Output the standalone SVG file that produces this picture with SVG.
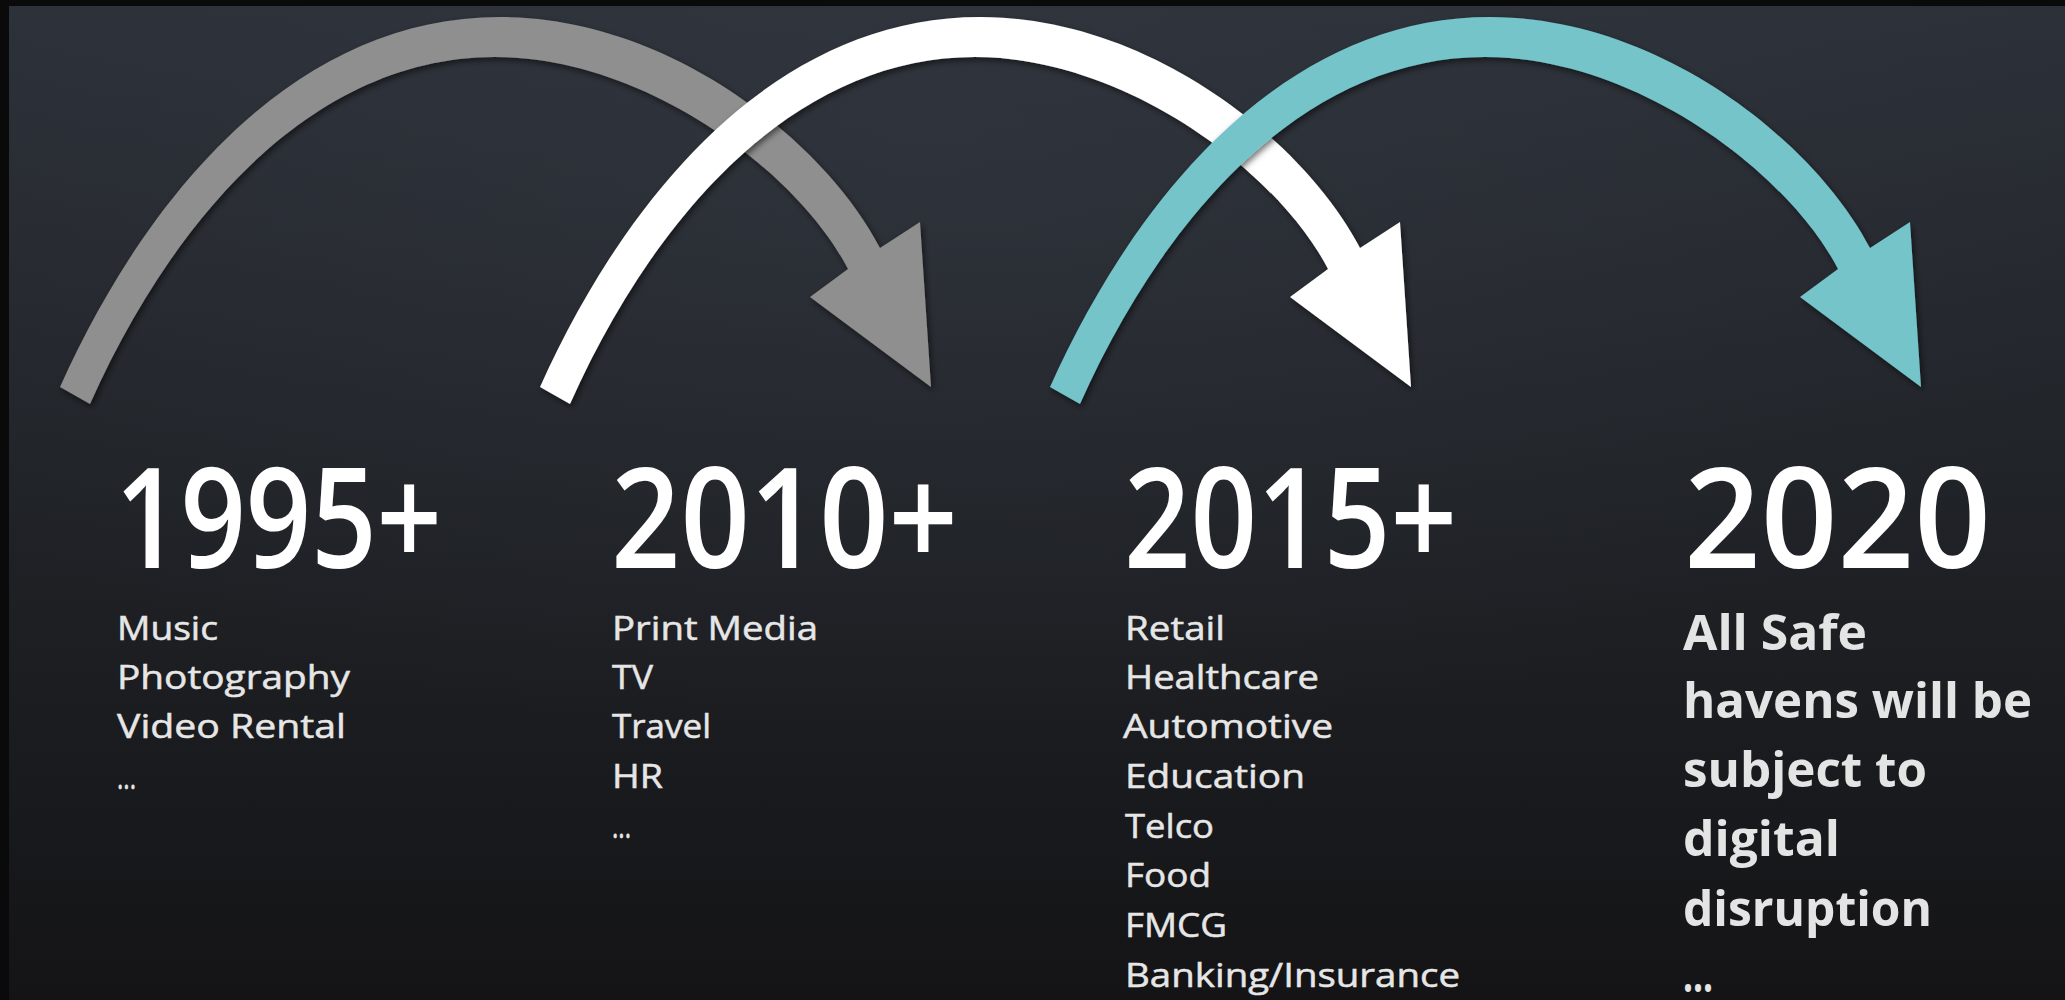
<svg xmlns="http://www.w3.org/2000/svg" xmlns:xlink="http://www.w3.org/1999/xlink" width="2065" height="1000" viewBox="0 0 2065 1000">
  <defs>
    <linearGradient id="bg" x1="0" y1="0" x2="0" y2="1">
      <stop offset="0" stop-color="#2c3038"/>
      <stop offset="0.45" stop-color="#212429"/>
      <stop offset="1" stop-color="#141416"/>
    </linearGradient>
    <radialGradient id="glow" cx="0.45" cy="0.15" r="0.6">
      <stop offset="0" stop-color="#3a3f48" stop-opacity="0.35"/>
      <stop offset="1" stop-color="#3a3f48" stop-opacity="0"/>
    </radialGradient>
    <filter id="shadow" x="-10%" y="-10%" width="130%" height="130%">
      <feDropShadow dx="2" dy="3" stdDeviation="3" flood-color="#000" flood-opacity="0.55"/>
    </filter>
    <path id="arc" d="M60 387 C150 187 300 17 500 17 C670 17 825 142 880 248 L920 222 L931 387 L810 297 L848 269 C797 171 645 57 495 57 C315 57 175 214 90 404 Z"/>
  </defs>
  <style>
    .year { font-family: "Open Sans", "Liberation Sans", sans-serif; font-weight: 600; font-size: 140px; fill: #ffffff; }
    .item { font-family: "Open Sans", "Liberation Sans", sans-serif; font-weight: 400; font-size: 33px; fill: #e6e6e6; stroke: #e6e6e6; stroke-width: 0.5px; }
    .bold { font-family: "Open Sans", "Liberation Sans", sans-serif; font-weight: 700; font-size: 49px; fill: #e4e4e4; }
    .arrow { filter: url(#shadow); }
  </style>

  <rect x="0" y="0" width="2065" height="1000" fill="url(#bg)"/>
  <rect x="0" y="0" width="2065" height="1000" fill="url(#glow)"/>
  <rect x="0" y="0" width="2065" height="6" fill="#0a0a0a"/>
  <rect x="0" y="0" width="9" height="1000" fill="#0a0a0a"/>

  <g id="connectors">
    <use xlink:href="#arc" href="#arc" class="arrow" fill="#8f8f8f"/>
    <use xlink:href="#arc" href="#arc" class="arrow" fill="#ffffff" x="480"/>
    <use xlink:href="#arc" href="#arc" class="arrow" fill="#74c4ca" x="990"/>
  </g>

  <g id="era-1995">
    <text class="year" x="115" y="568" textLength="327" lengthAdjust="spacingAndGlyphs">1995+</text>
    <text class="item" x="117" y="640" textLength="101" lengthAdjust="spacingAndGlyphs">Music</text>
    <text class="item" x="117" y="689" textLength="233" lengthAdjust="spacingAndGlyphs">Photography</text>
    <text class="item" x="117" y="738" textLength="229" lengthAdjust="spacingAndGlyphs">Video Rental</text>
    <text class="item" x="117" y="789" textLength="19" lengthAdjust="spacingAndGlyphs">...</text>
  </g>

  <g id="era-2010">
    <text class="year" x="611" y="568" textLength="347" lengthAdjust="spacingAndGlyphs">2010+</text>
    <text class="item" x="612" y="640" textLength="206" lengthAdjust="spacingAndGlyphs">Print Media</text>
    <text class="item" x="612" y="689" textLength="41" lengthAdjust="spacingAndGlyphs">TV</text>
    <text class="item" x="612" y="738" textLength="99" lengthAdjust="spacingAndGlyphs">Travel</text>
    <text class="item" x="612" y="788" textLength="51" lengthAdjust="spacingAndGlyphs">HR</text>
    <text class="item" x="612" y="838" textLength="19" lengthAdjust="spacingAndGlyphs">...</text>
  </g>

  <g id="era-2015">
    <text class="year" x="1124" y="568" textLength="333" lengthAdjust="spacingAndGlyphs">2015+</text>
    <text class="item" x="1125" y="640" textLength="100" lengthAdjust="spacingAndGlyphs">Retail</text>
    <text class="item" x="1125" y="689" textLength="194" lengthAdjust="spacingAndGlyphs">Healthcare</text>
    <text class="item" x="1123" y="738" textLength="210" lengthAdjust="spacingAndGlyphs">Automotive</text>
    <text class="item" x="1125" y="788" textLength="180" lengthAdjust="spacingAndGlyphs">Education</text>
    <text class="item" x="1125" y="838" textLength="89" lengthAdjust="spacingAndGlyphs">Telco</text>
    <text class="item" x="1125" y="887" textLength="86" lengthAdjust="spacingAndGlyphs">Food</text>
    <text class="item" x="1125" y="937" textLength="102" lengthAdjust="spacingAndGlyphs">FMCG</text>
    <text class="item" x="1125" y="987" textLength="335" lengthAdjust="spacingAndGlyphs">Banking/Insurance</text>
  </g>

  <g id="era-2020">
    <text class="year" x="1684" y="568" textLength="307" lengthAdjust="spacingAndGlyphs">2020</text>
    <text class="bold" x="1683" y="650" textLength="184" lengthAdjust="spacingAndGlyphs">All Safe</text>
    <text class="bold" x="1683" y="718" textLength="349" lengthAdjust="spacingAndGlyphs">havens will be</text>
    <text class="bold" x="1683" y="787" textLength="244" lengthAdjust="spacingAndGlyphs">subject to</text>
    <text class="bold" x="1683" y="856" textLength="157" lengthAdjust="spacingAndGlyphs">digital</text>
    <text class="bold" x="1683" y="926" textLength="249" lengthAdjust="spacingAndGlyphs">disruption</text>
    <text class="bold" x="1683" y="992" textLength="30" lengthAdjust="spacingAndGlyphs">...</text>
  </g>
</svg>
